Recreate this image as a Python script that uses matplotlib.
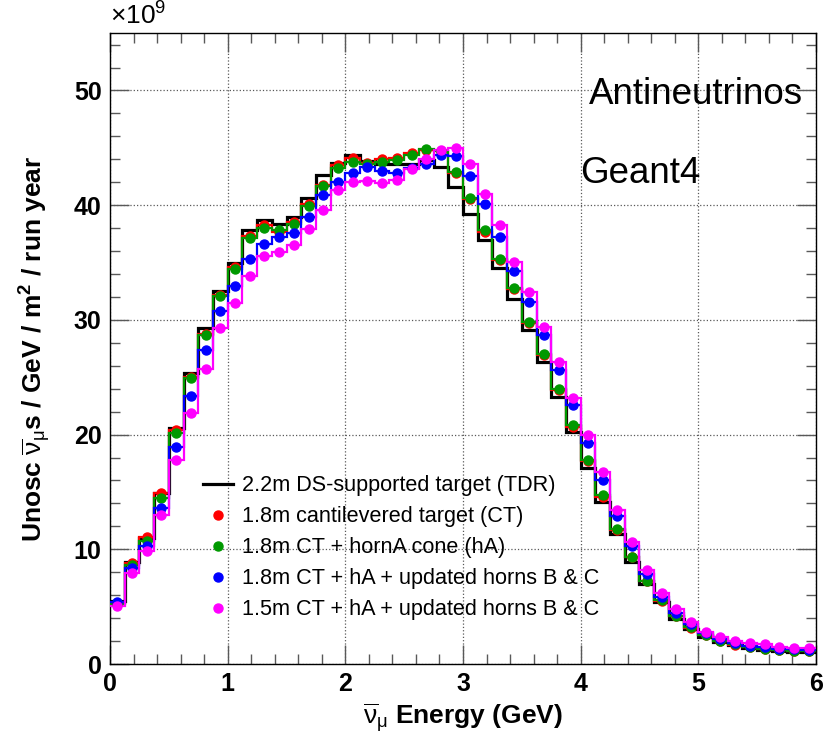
import numpy as np
from matplotlib import pyplot as plt
from matplotlib.lines import Line2D
from matplotlib.ticker import MultipleLocator

plt.rcParams["font.family"] = ["Liberation Sans", "DejaVu Sans"]
plt.rcParams["mathtext.fontset"] = "custom"
plt.rcParams["mathtext.rm"] = "Liberation Sans"
plt.rcParams["mathtext.it"] = "Liberation Sans"
plt.rcParams["mathtext.bf"] = "Liberation Sans:bold"
plt.rcParams["mathtext.default"] = "regular"

# 48 bins of 0.125 GeV, flux in units of 1e9
edges = np.linspace(0, 6, 49)

tdr = [5.5, 8.9, 11.0, 14.95, 20.6, 25.35, 29.3, 32.55, 35.0, 37.8, 38.7, 38.4,
       39.0, 40.6, 42.6, 43.7, 44.4, 43.85, 43.55, 43.55, 43.55, 43.9, 43.3, 41.6,
       39.2, 37.0, 34.55, 31.8, 29.15, 26.35, 23.3, 20.2, 17.05, 14.15, 11.3, 8.9,
       6.95, 5.37, 3.92, 3.05, 2.35, 1.94, 1.65, 1.36, 1.22, 1.13, 1.02, 1.07]
ct = [5.3, 8.8, 11.05, 14.9, 20.4, 25.0, 28.8, 32.2, 34.6, 37.3, 38.3, 37.65,
      38.5, 40.1, 41.8, 43.5, 44.1, 43.7, 44.0, 44.1, 44.55, 44.85, 44.7, 42.8,
      40.5, 37.7, 35.2, 32.7, 29.7, 26.9, 23.9, 20.7, 17.7, 14.6, 11.7, 9.3,
      7.2, 5.5, 4.15, 3.15, 2.5, 1.98, 1.68, 1.48, 1.33, 1.22, 1.12, 1.12]
ct_ha = [5.2, 8.65, 10.7, 14.5, 20.15, 24.9, 28.7, 32.1, 34.45, 37.15, 38.05, 37.8,
         38.4, 39.95, 41.7, 43.25, 43.75, 43.6, 43.75, 43.95, 44.4, 44.9, 44.7, 42.9,
         40.6, 37.8, 35.3, 32.8, 29.8, 27.0, 24.0, 20.8, 17.77, 14.7, 11.8, 9.35,
         7.25, 5.57, 4.18, 3.2, 2.53, 2.05, 1.72, 1.5, 1.35, 1.25, 1.15, 1.15]
ct18_bc = [5.4, 8.4, 10.3, 13.6, 18.9, 23.4, 27.4, 30.8, 32.95, 35.3, 36.65, 37.2,
           37.6, 39.0, 40.9, 42.05, 42.8, 43.3, 42.95, 42.8, 43.25, 43.6, 44.35, 44.3,
           42.55, 40.1, 37.2, 34.3, 31.6, 28.65, 25.65, 22.6, 19.3, 16.0, 12.9, 10.3,
           7.85, 5.86, 4.47, 3.48, 2.7, 2.2, 1.85, 1.6, 1.5, 1.35, 1.28, 1.25]
ct15_bc = [5.1, 7.9, 9.85, 12.95, 17.77, 21.9, 25.75, 29.3, 31.5, 33.8, 35.55, 35.9,
           36.5, 37.9, 39.6, 41.35, 42.0, 42.15, 41.9, 42.2, 43.15, 44.05, 44.8, 45.0,
           43.55, 40.95, 38.25, 35.05, 32.4, 29.35, 26.35, 23.15, 19.95, 16.7, 13.45, 10.6,
           8.2, 6.16, 4.76, 3.63, 2.81, 2.38, 2.03, 1.8, 1.71, 1.51, 1.42, 1.37]

labels = [
    "2.2m DS-supported target (TDR)",
    "1.8m cantilevered target (CT)",
    "1.8m CT + hornA cone (hA)",
    "1.8m CT + hA + updated horns B & C",
    "1.5m CT + hA + updated horns B & C",
]

fig = plt.figure(figsize=(8.29, 7.36), dpi=100)
ax = fig.add_axes([0.1327, 0.0978, 0.8516, 0.8572])

centers = 0.5 * (edges[1:] + edges[:-1])

series = [(ct, "#ff0000"), (ct_ha, "#009900"), (ct18_bc, "#0000ff"), (ct15_bc, "#ff00ff")]
ax.stairs(tdr, edges, baseline=None, color="k", lw=2.3, zorder=3)
for vals, col in series:
    ax.stairs(vals, edges, baseline=None, color=col, lw=1.6, zorder=4)
    ax.plot(centers, vals, "o", color=col, ms=6.5, mec=col, zorder=5)

ax.set_xlim(0, 6)
ax.set_ylim(0, 55)
ax.xaxis.set_major_locator(MultipleLocator(1))
ax.xaxis.set_minor_locator(MultipleLocator(0.2))
ax.yaxis.set_major_locator(MultipleLocator(10))
ax.yaxis.set_minor_locator(MultipleLocator(2))
ax.tick_params(which="both", direction="in", top=True, right=True, color="0.35", width=1)
ax.tick_params(which="major", length=13.5, labelsize=18, pad=6)
ax.tick_params(which="minor", length=7)
for lab in ax.get_xticklabels() + ax.get_yticklabels():
    lab.set_fontweight("bold")
ax.grid(which="major", ls=":", color="0.35", lw=0.9)
for sp in ax.spines.values():
    sp.set_linewidth(1.0)

nubar = r"$\mathrm{\overline{\nu}_{\mu}}$"
ax.set_xlabel(nubar + " Energy (GeV)", fontsize=19, fontweight="bold", labelpad=4)
ax.set_ylabel("Unosc " + nubar + r"s / GeV / m$^{2}$ / run year", fontsize=19,
              fontweight="bold", labelpad=15)
ax.text(0.0, 1.006, r"$\times$10$^{9}$", transform=ax.transAxes, fontsize=19,
        ha="left", va="bottom")

ax.text(0.982, 0.902, "Antineutrinos", transform=ax.transAxes, fontsize=26.5,
        ha="right", va="center")
ax.text(0.837, 0.778, "Geant4", transform=ax.transAxes, fontsize=26.5,
        ha="right", va="center")

handles = [Line2D([], [], color="k", lw=2.3)]
for vals, col in series:
    handles.append(Line2D([], [], ls="none", marker="o", color=col, ms=6.5))
fig.legend(handles, labels, loc="upper left", bbox_to_anchor=(0.245, 0.354),
           frameon=False, fontsize=15.6, handlelength=1.4, handletextpad=0.4,
           labelspacing=0.46, borderpad=0, borderaxespad=0)

fig.savefig("out.png", dpi=100)
